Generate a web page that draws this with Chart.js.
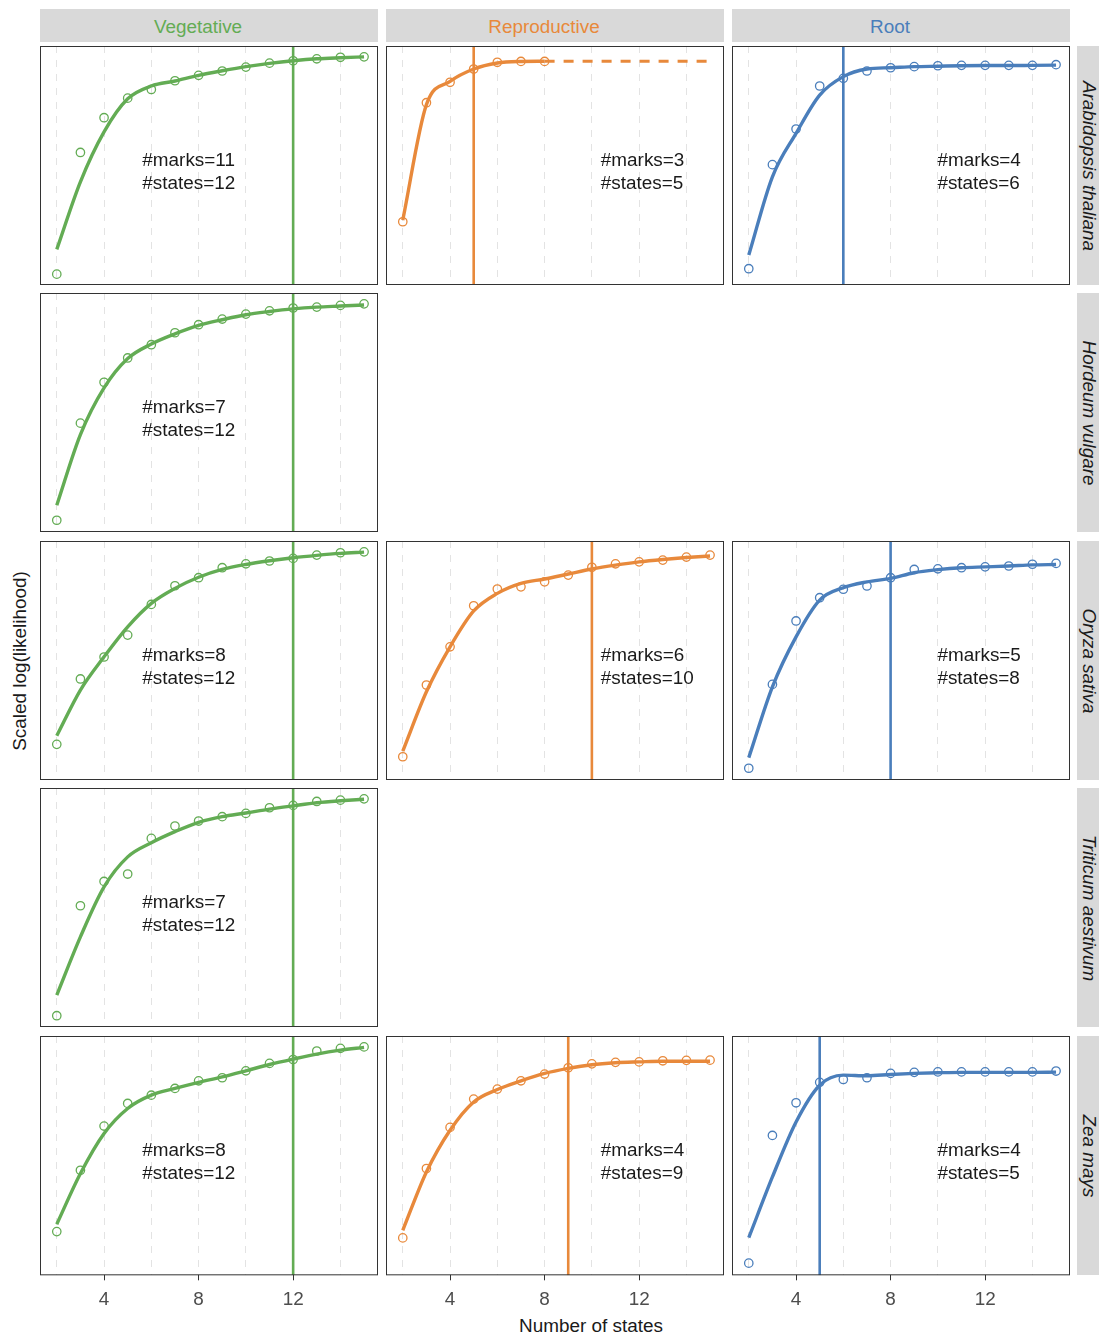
<!DOCTYPE html>
<html>
<head>
<meta charset="utf-8">
<title>Scaled log(likelihood) by number of states</title>
<script src="https://cdn.jsdelivr.net/npm/chart.js@4.4.0/dist/chart.umd.min.js"></script>
<style>
  html, body { margin: 0; padding: 0; background: #ffffff; overflow: hidden; }
  #page { position: relative; width: 1099px; height: 1336px; overflow: hidden;
          font-family: "Liberation Sans", Arial, sans-serif; }
  .strip { position: absolute; background: #D9D9D9; display: flex; align-items: center;
           justify-content: center; font-size: 18.9px; white-space: nowrap; box-sizing: border-box; }
  .tstrip { padding-top: 2px; padding-right: 22px; }
  .rstrip span { display: inline-block; transform: rotate(90deg); font-style: italic; color: #1A1A1A; }
  .label { position: absolute; font-size: 18.9px; color: #1A1A1A; white-space: nowrap; }
  canvas { position: absolute; }
</style>
</head>
<body>
<div id="page"></div>
<script>
// ---- data -------------------------------------------------------------
const STATES = [2, 3, 4, 5, 6, 7, 8, 9, 10, 11, 12, 13, 14, 15];
const TISSUES = ['Vegetative', 'Reproductive', 'Root'];
const SPECIES = ['Arabidopsis thaliana', 'Hordeum vulgare', 'Oryza sativa', 'Triticum aestivum', 'Zea mays'];
const TISSUE_COLORS = ['#63AC54', '#E8893B', '#4A7EBB'];
const X_TICK_LABELS = [4, 8, 12];
const X_GRID = [2, 4, 6, 8, 10, 12, 14];

// scaled log-likelihood per model (points) and smoothed fit (line)
const athVegLL  = [0.000, 0.560, 0.720, 0.810, 0.850, 0.890, 0.915, 0.935, 0.953, 0.971, 0.982, 0.991, 0.998, 1.000];
const athVegFit = [0.114, 0.425, 0.655, 0.807, 0.866, 0.889, 0.915, 0.936, 0.955, 0.970, 0.982, 0.991, 0.996, 1.000];
const athRepLL  = [0.241, 0.789, 0.883, 0.944, 0.975, 0.979, 0.979];
const athRepFit = [0.249, 0.780, 0.887, 0.944, 0.972, 0.979, 0.980];
const athRootLL  = [0.025, 0.504, 0.668, 0.866, 0.901, 0.935, 0.950, 0.955, 0.959, 0.961, 0.961, 0.961, 0.961, 0.964];
const athRootFit = [0.088, 0.448, 0.648, 0.824, 0.909, 0.944, 0.950, 0.955, 0.957, 0.959, 0.960, 0.960, 0.961, 0.962];

const horVegLL  = [0.004, 0.451, 0.639, 0.751, 0.812, 0.867, 0.904, 0.930, 0.953, 0.968, 0.981, 0.985, 0.993, 1.000];
const horVegFit = [0.073, 0.398, 0.613, 0.748, 0.815, 0.862, 0.901, 0.927, 0.950, 0.965, 0.977, 0.985, 0.990, 0.995];

const oryVegLL  = [0.114, 0.415, 0.516, 0.617, 0.758, 0.844, 0.881, 0.927, 0.945, 0.958, 0.970, 0.985, 0.996, 1.000];
const oryVegFit = [0.154, 0.364, 0.517, 0.655, 0.763, 0.832, 0.883, 0.919, 0.942, 0.959, 0.973, 0.984, 0.993, 0.999];
const oryRepLL  = [0.057, 0.387, 0.563, 0.752, 0.829, 0.839, 0.862, 0.893, 0.929, 0.945, 0.954, 0.962, 0.976, 0.985];
const oryRepFit = [0.083, 0.356, 0.563, 0.728, 0.809, 0.855, 0.875, 0.898, 0.921, 0.939, 0.954, 0.965, 0.974, 0.981];
const oryRootLL  = [0.004, 0.390, 0.682, 0.789, 0.828, 0.843, 0.881, 0.919, 0.922, 0.927, 0.931, 0.935, 0.943, 0.947];
const oryRootFit = [0.053, 0.379, 0.609, 0.778, 0.835, 0.862, 0.878, 0.904, 0.918, 0.927, 0.931, 0.935, 0.940, 0.942];

const triVegLL  = [0.002, 0.508, 0.620, 0.654, 0.818, 0.875, 0.898, 0.918, 0.933, 0.959, 0.970, 0.988, 0.994, 1.000];
const triVegFit = [0.097, 0.365, 0.595, 0.733, 0.798, 0.849, 0.892, 0.918, 0.935, 0.953, 0.968, 0.982, 0.991, 0.998];

const zeaVegLL  = [0.151, 0.433, 0.636, 0.740, 0.778, 0.809, 0.844, 0.858, 0.890, 0.924, 0.942, 0.981, 0.993, 1.000];
const zeaVegFit = [0.185, 0.418, 0.602, 0.717, 0.778, 0.809, 0.837, 0.862, 0.890, 0.919, 0.944, 0.967, 0.985, 0.998];
const zeaRepLL  = [0.122, 0.441, 0.630, 0.760, 0.806, 0.844, 0.875, 0.904, 0.922, 0.929, 0.931, 0.936, 0.938, 0.939];
const zeaRepFit = [0.157, 0.425, 0.617, 0.747, 0.804, 0.844, 0.878, 0.901, 0.918, 0.927, 0.931, 0.934, 0.934, 0.934];
const zeaRootLL  = [0.006, 0.593, 0.743, 0.837, 0.850, 0.858, 0.878, 0.883, 0.885, 0.885, 0.885, 0.885, 0.885, 0.889];
const zeaRootFit = [0.123, 0.402, 0.655, 0.824, 0.870, 0.867, 0.873, 0.878, 0.881, 0.883, 0.883, 0.883, 0.883, 0.884];

// selected model per panel (rows: species, columns: tissues)
const MARKS  = [[11, 3, 4], [7, null, null], [8, 6, 5], [7, null, null], [8, 4, 4]];
const CHOSEN = [[12, 5, 6], [12, null, null], [12, 10, 8], [12, null, null], [12, 9, 5]];

// annotation anchor (left edge, in states) per tissue column and line heights (scaled units)
const NOTE_X = [5.62, 10.38, 9.98];
const NOTE_Y = [0.521, 0.415];

const PANEL_DATA = [
  [[athVegLL, athVegFit], [athRepLL, athRepFit], [athRootLL, athRootFit]],
  [[horVegLL, horVegFit], null, null],
  [[oryVegLL, oryVegFit], [oryRepLL, oryRepFit], [oryRootLL, oryRootFit]],
  [[triVegLL, triVegFit], null, null],
  [[zeaVegLL, zeaVegFit], [zeaRepLL, zeaRepFit], [zeaRootLL, zeaRootFit]]
];

// ---- layout -----------------------------------------------------------
const COL_LEFT = [40, 386, 732];
const ROW_TOP = [46, 293, 541, 788, 1036];
const PANEL_W = 338;
const PANEL_H = 239;
const AXIS_EXTRA = 44;   // room below the bottom row for tick marks and labels
const X_MIN = 1.29, X_MAX = 15.59;
const FONT = '"Liberation Sans", Arial, sans-serif';

Chart.defaults.font.family = FONT;

const page = document.getElementById('page');

function addDiv(cls, css, html) {
  const d = document.createElement('div');
  d.className = cls;
  Object.assign(d.style, css);
  d.innerHTML = html;
  page.appendChild(d);
  return d;
}

// column strips
TISSUES.forEach((t, c) => {
  addDiv('strip tstrip', { left: COL_LEFT[c] + 'px', top: '9px', width: PANEL_W + 'px', height: '33px',
                           color: TISSUE_COLORS[c] }, t);
});
// row strips
SPECIES.forEach((s, r) => {
  addDiv('strip rstrip', { left: '1077px', top: ROW_TOP[r] + 'px', width: '24px', height: PANEL_H + 'px' },
         '<span>' + s + '</span>');
});
// axis titles
addDiv('label', { left: '591px', top: '1326px', transform: 'translate(-50%, -50%)' }, 'Number of states');
addDiv('label', { left: '20px', top: '661px', transform: 'translate(-50%, -50%) rotate(-90deg)' },
       'Scaled log(likelihood)');

// frame + text annotation drawn inside each panel
const panelDecor = {
  id: 'panelDecor',
  afterDatasetsDraw(chart, args, opts) {
    const { ctx, chartArea: a, scales: { x, y } } = chart;
    ctx.save();
    ctx.fillStyle = '#1A1A1A';
    ctx.font = '18.9px ' + FONT;
    ctx.textAlign = 'left';
    ctx.textBaseline = 'middle';
    opts.lines.forEach((t, i) => ctx.fillText(t, x.getPixelForValue(opts.noteX), y.getPixelForValue(NOTE_Y[i])));
    ctx.strokeStyle = '#333333';
    ctx.lineWidth = 1;
    ctx.strokeRect(a.left + 0.5, a.top + 0.5, a.width - 1, a.height - 1);
    ctx.restore();
  }
};

function buildPanel(r, c) {
  const pd = PANEL_DATA[r][c];
  if (!pd) return;
  const [ll, fit] = pd;
  const color = TISSUE_COLORS[c];
  const bottom = r === ROW_TOP.length - 1;
  const xs = STATES.slice(0, ll.length);

  const canvas = document.createElement('canvas');
  const h = PANEL_H + (bottom ? AXIS_EXTRA : 0);
  canvas.width = PANEL_W; canvas.height = h;
  canvas.style.left = COL_LEFT[c] + 'px';
  canvas.style.top = ROW_TOP[r] + 'px';
  canvas.style.width = PANEL_W + 'px';
  canvas.style.height = h + 'px';
  page.appendChild(canvas);

  const datasets = [
    { label: 'models', data: xs.map((s, i) => ({ x: s, y: ll[i] })), showLine: false,
      pointRadius: 4.2, pointBorderWidth: 1.3, pointBorderColor: color,
      pointBackgroundColor: 'rgba(0,0,0,0)' },
    { label: 'fit', data: xs.map((s, i) => ({ x: s, y: fit[i] })), borderColor: color,
      borderWidth: 3.4, pointRadius: 0, cubicInterpolationMode: 'monotone', fill: false },
    { label: 'chosen', data: [{ x: CHOSEN[r][c], y: -0.05 }, { x: CHOSEN[r][c], y: 1.05 }],
      borderColor: color, borderWidth: 2.6, pointRadius: 0, fill: false }
  ];
  // models beyond the last fitted one stay at the plateau
  if (ll.length < STATES.length) {
    const last = fit[fit.length - 1];
    datasets.push({ label: 'plateau',
      data: [{ x: xs[xs.length - 1], y: last }, { x: STATES[STATES.length - 1], y: last }],
      borderColor: color, borderWidth: 3, borderDash: [10, 9], pointRadius: 0, fill: false });
  }

  new Chart(canvas, {
    type: 'line',
    data: { datasets },
    options: {
      responsive: false,
      animation: false,
      events: [],
      layout: { padding: 0, autoPadding: false },
      plugins: {
        legend: { display: false },
        tooltip: { enabled: false },
        panelDecor: { lines: ['#marks=' + MARKS[r][c], '#states=' + CHOSEN[r][c]], noteX: NOTE_X[c] }
      },
      scales: {
        x: {
          type: 'linear', min: X_MIN, max: X_MAX,
          afterBuildTicks: (s) => { s.ticks = X_GRID.map(v => ({ value: v })); },
          border: { display: false, dash: [7, 7] },
          grid: {
            color: '#E3E3E3', lineWidth: 1,
            drawTicks: bottom, tickLength: 5, tickWidth: 1,
            tickColor: (ctx) => (ctx.tick && X_TICK_LABELS.includes(ctx.tick.value)) ? '#333333' : 'rgba(0,0,0,0)'
          },
          ticks: {
            display: bottom, padding: 8, maxRotation: 0, autoSkip: false,
            color: '#4D4D4D', font: { size: 18.9, family: FONT },
            callback: (v) => X_TICK_LABELS.includes(v) ? String(v) : ''
          }
        },
        y: { type: 'linear', display: false, min: -0.05, max: 1.05 }
      }
    },
    plugins: [panelDecor]
  });
}

for (let r = 0; r < ROW_TOP.length; r++) {
  for (let c = 0; c < COL_LEFT.length; c++) buildPanel(r, c);
}
</script>
</body>
</html>
